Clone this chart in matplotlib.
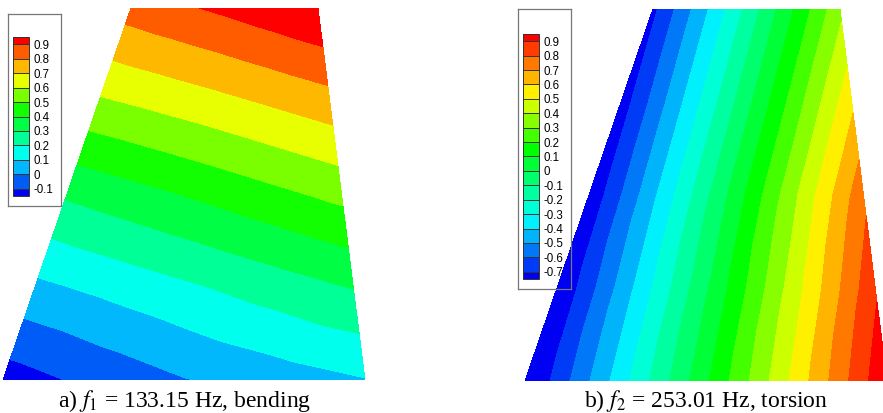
import numpy as np
import matplotlib
matplotlib.use("Agg")
import matplotlib.pyplot as plt
import matplotlib.tri as mtri
from matplotlib.colors import LinearSegmentedColormap, ListedColormap, BoundaryNorm
from matplotlib.colorbar import ColorbarBase

plt.rcParams['font.family'] = ['Liberation Sans', 'DejaVu Sans']
plt.rcParams['mathtext.fontset'] = 'stix'

# wing planform (root chord = 1)
SPAN = 372 / 362.0
TIP_LE = 128 / 362.0
TIP_TE = 315 / 362.0
span_st = [0.0, 0.25, 0.5, 0.75, 1.0]
chord_st = [0.0, 0.25, 0.5, 0.75, 1.0]

# mode 1 (bending), rows = span stations (root -> tip), cols = chord stations (LE -> TE)
mode1 = [[-0.150, -0.076, -0.005, 0.048, 0.095],
         [0.076, 0.133, 0.190, 0.248, 0.305],
         [0.314, 0.367, 0.420, 0.475, 0.529],
         [0.587, 0.628, 0.670, 0.715, 0.760],
         [0.845, 0.883, 0.920, 0.960, 1.000]]
levels1 = [-0.1, 0.0, 0.1, 0.2, 0.3, 0.4, 0.5, 0.6, 0.7, 0.8, 0.9]
ticks1 = ['-0.1', '0', '0.1', '0.2', '0.3', '0.4', '0.5', '0.6', '0.7', '0.8', '0.9']

# mode 2 (torsion)
mode2 = [[-0.826, -0.371, 0.084, 0.538, 0.993],
         [-0.806, -0.383, 0.040, 0.462, 0.885],
         [-0.785, -0.395, -0.006, 0.384, 0.774],
         [-0.758, -0.424, -0.090, 0.243, 0.577],
         [-0.726, -0.451, -0.176, 0.099, 0.374]]
levels2 = [-0.7, -0.6, -0.5, -0.4, -0.3, -0.2, -0.1, 0.0, 0.1, 0.2, 0.3, 0.4, 0.5, 0.6, 0.7, 0.8, 0.9]
ticks2 = ['-0.7', '-0.6', '-0.5', '-0.4', '-0.3', '-0.2', '-0.1', '0',
          '0.1', '0.2', '0.3', '0.4', '0.5', '0.6', '0.7', '0.8', '0.9']

captions = [r'a) $f_1$ = 133.15 Hz, bending', r'b) $f_2$ = 253.01 Hz, torsion']

W, H = 883, 413
rainbow = LinearSegmentedColormap.from_list(
    'tec', [(0.0, (0, 0, 0.95)), (0.25, (0, 1, 1)), (0.53, (0, 1, 0)),
            (0.75, (1, 1, 0)), (1.0, (1, 0, 0))])

fig = plt.figure(figsize=(W / 100, H / 100), dpi=100)


def px_axes(x0, y0, w, h, **kw):
    return fig.add_axes([x0 / W, 1 - (y0 + h) / H, w / W, h / H], **kw)


# mesh nodes on the trapezoid
ns, nc = len(span_st), len(chord_st)
s = np.repeat(span_st, nc)
c = np.tile(chord_st, ns)
xle = s * TIP_LE
xte = 1 + s * (TIP_TE - 1)
xn = xle + c * (xte - xle)
yn = s * SPAN
tris = []
for i in range(ns - 1):
    for j in range(nc - 1):
        a = i * nc + j
        tris.append([a, a + 1, a + nc + 1])
        tris.append([a, a + nc + 1, a + nc])
tri = mtri.Triangulation(xn, yn, tris)


def draw_panel(x0, y0, vals, levels, ticks, box, cbar, caption, cx):
    ax = px_axes(x0, y0, 362, 372)
    cols = rainbow(np.linspace(0, 1, len(levels) + 1))
    ax.tricontourf(tri, np.ravel(vals), levels=levels, colors=cols, extend='both')
    ax.set_xlim(0, 1)
    ax.set_ylim(0, SPAN)
    ax.axis('off')

    # legend
    cax = px_axes(*cbar)
    cmap = ListedColormap(cols[1:-1])
    cmap.set_under(cols[0])
    cmap.set_over(cols[-1])
    norm = BoundaryNorm(levels, cmap.N)
    cb = ColorbarBase(cax, cmap=cmap, norm=norm, extend='both', extendrect=True,
                      extendfrac=0.5 / (len(levels) - 1), drawedges=True,
                      ticks=levels)
    cb.ax.set_yticklabels(ticks)
    cb.ax.tick_params(length=0, pad=3.5, labelsize=8.3)
    cb.outline.set_edgecolor('#333333')
    cb.outline.set_linewidth(0.7)
    cb.dividers.set_color('#333333')
    cb.dividers.set_linewidth(0.7)

    bx = px_axes(*box)
    bx.set_xticks([])
    bx.set_yticks([])
    bx.patch.set_alpha(0)
    for sp in bx.spines.values():
        sp.set_color('#777777')
        sp.set_linewidth(0.9)

    fig.text(cx / W, 1 - 407 / H, caption, ha='center', va='baseline',
             fontsize=17, family='Liberation Serif')


draw_panel(3, 8, mode1, levels1, ticks1, (8, 14, 53, 192), (13, 37, 16, 159),
           captions[0], 184.5)
draw_panel(525, 9, mode2, levels2, ticks2, (518, 9, 53, 280), (523, 34, 16, 245),
           captions[1], 706)

fig.savefig('out.png', dpi=100)
